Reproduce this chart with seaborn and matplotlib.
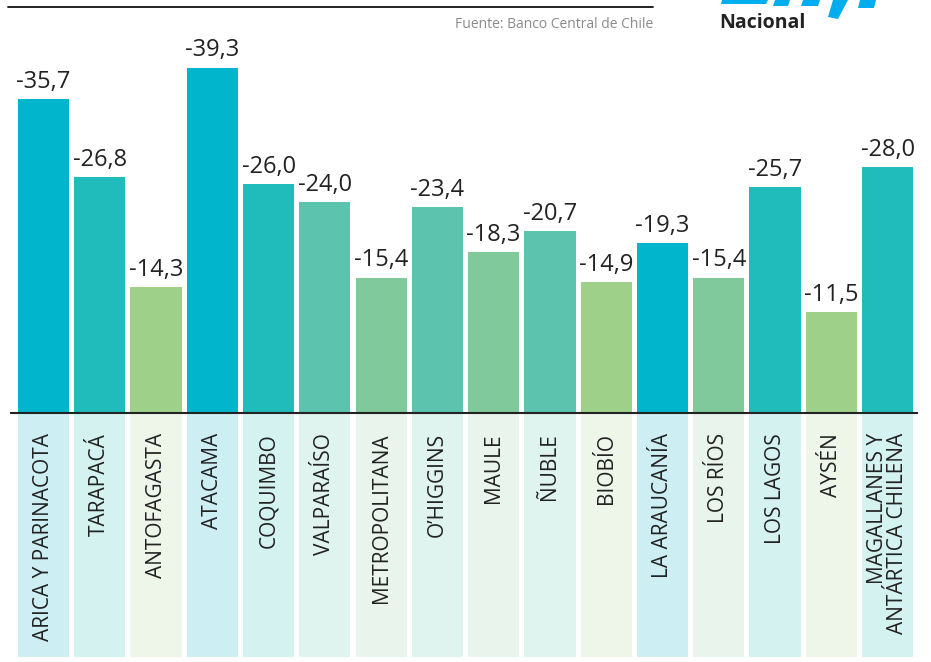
import matplotlib
matplotlib.use("Agg")
import matplotlib.pyplot as plt
from matplotlib.patches import Polygon
import seaborn as sns
import pandas as pd

# data
regiones = ["ARICA Y PARINACOTA", "TARAPACÁ", "ANTOFAGASTA", "ATACAMA", "COQUIMBO",
            "VALPARAÍSO", "METROPOLITANA", "O’HIGGINS", "MAULE", "ÑUBLE", "BIOBÍO",
            "LA ARAUCANÍA", "LOS RÍOS", "LOS LAGOS", "AYSÉN",
            "MAGALLANES Y\nANTÁRTICA CHILENA"]
variacion = [-35.7, -26.8, -14.3, -39.3, -26.0, -24.0, -15.4, -23.4, -18.3, -20.7,
             -14.9, -19.3, -15.4, -25.7, -11.5, -28.0]

bar_colors = ["#00b5cc", "#20bbbb", "#9ed08a", "#00b5cc", "#20bbbb", "#5cc4ae",
              "#80c99a", "#5cc4ae", "#80c99a", "#5cc4ae", "#9ed08a", "#00b5cc",
              "#80c99a", "#20bbbb", "#9ed08a", "#20bbbb"]
box_colors = ["#cdeff3", "#d4f2f0", "#eef6ea", "#cdeff3", "#d4f2f0", "#dff3ef",
              "#e8f4ec", "#dff3ef", "#e8f4ec", "#dff3ef", "#eef6ea", "#cdeff3",
              "#e8f4ec", "#d4f2f0", "#eef6ea", "#d4f2f0"]

df = pd.DataFrame({"region": regiones, "valor": variacion})
df["altura"] = -df["valor"]

sns.set_style("white")
plt.rcParams["font.family"] = ["Open Sans", "DejaVu Sans"]

fig = plt.figure(figsize=(9.31, 6.62), dpi=100)
ax = fig.add_axes([10 / 931, 5 / 662, 908 / 931, 657 / 662])

sns.barplot(data=df, x="region", y="altura", hue="region", palette=bar_colors,
            width=0.91, legend=False, ax=ax, saturation=1, linewidth=0)

# label boxes under the baseline
ax.bar(range(len(regiones)), [-27.8] * len(regiones), width=0.91,
       color=box_colors, bottom=-0.15, zorder=0, linewidth=0)

ax.set_xlim(-0.595, 15.54)
ax.set_ylim(-27.8, 47.0)
ax.axhline(0, color="#222222", lw=1.5, zorder=5)

for i, (reg, v) in enumerate(zip(regiones, variacion)):
    ax.text(i, -v + 0.6, f"{v:.1f}".replace(".", ","), ha="center", va="bottom",
            fontsize=17, color="#222222")
    ax.text(i, -2.3, reg, rotation=90, ha="center", va="top",
            multialignment="right", fontsize=15, color="#222222",
            linespacing=0.95)

ax.set_xlabel("")
ax.set_ylabel("")
ax.set_xticks([])
ax.set_yticks([])
sns.despine(ax=ax, left=True, bottom=True)

# header line, source, logo
fig.add_artist(plt.Line2D([8 / 931, 653 / 931], [1 - 7 / 662, 1 - 7 / 662],
                          color="#111111", lw=1.3))
fig.text(653 / 931, 1 - 24 / 662, "Fuente: Banco Central de Chile", ha="right",
         va="center", fontsize=10, color="#8a8a8a")
fig.text(719 / 931, 1 - 23 / 662, "Nacional", ha="left", va="center",
         fontsize=14, fontweight="bold", color="#222222")

blue = "#00aeef"
shapes = [
    [(722, 0), (768, 0), (766, 4), (721, 4)],
    [(775, 0), (790, 0), (788, 6), (773, 6)],
    [(803, 0), (820, 0), (818, 6), (801, 6)],
    [(833, 0), (848, 0), (838, 19), (828, 17)],
    [(860, 0), (876, 0), (874, 8), (858, 8)],
]
for pts in shapes:
    fig.patches.append(Polygon([(x / 931, 1 - y / 662) for x, y in pts],
                               closed=True, transform=fig.transFigure,
                               facecolor=blue, edgecolor="none"))

fig.savefig("out.png", dpi=100)
